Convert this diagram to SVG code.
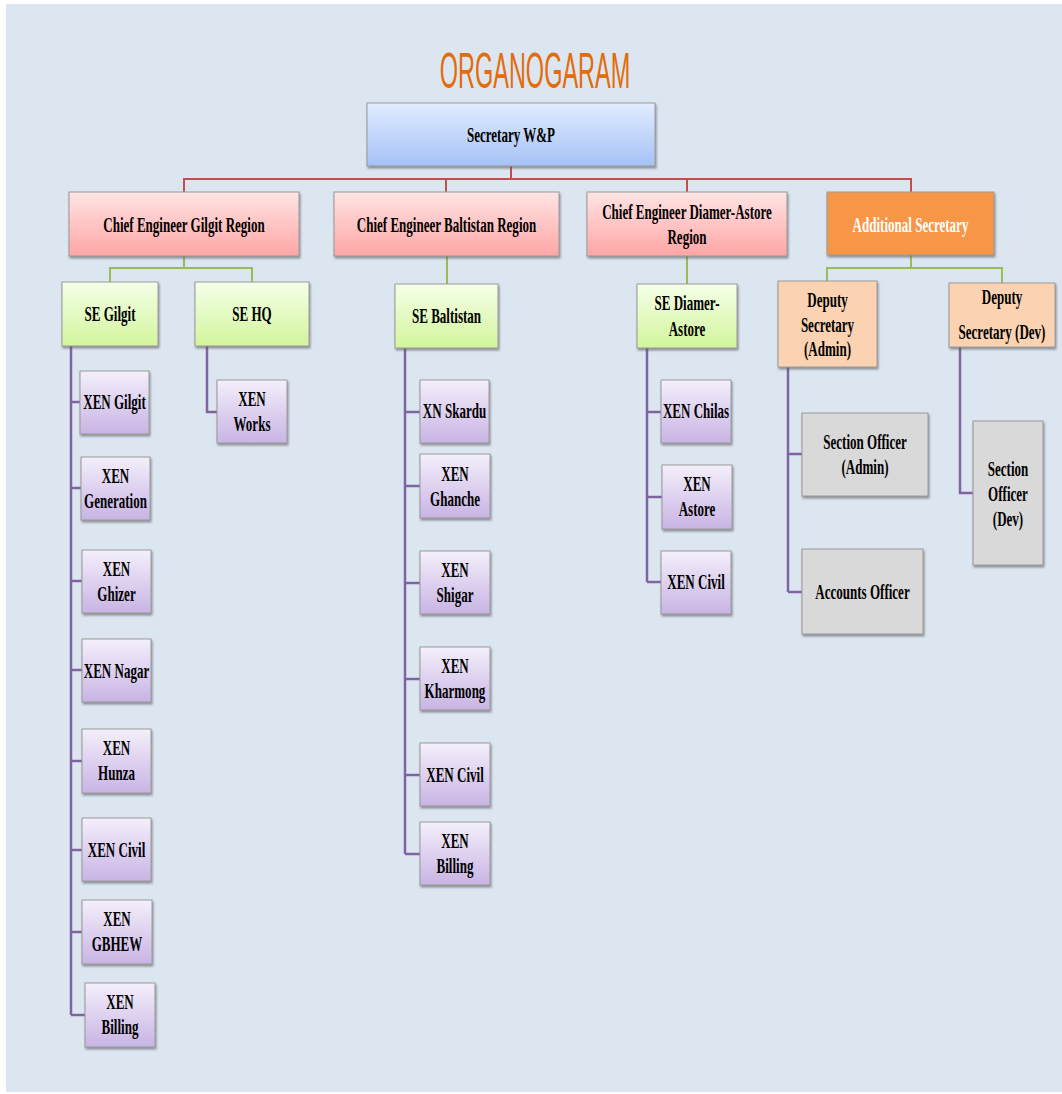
<svg xmlns="http://www.w3.org/2000/svg" width="1062" height="1094" viewBox="0 0 1062 1094">
<defs>
<linearGradient id="gBlue" x1="0" y1="0" x2="0" y2="1"><stop offset="0" stop-color="#e2ecff"/><stop offset="1" stop-color="#a4c2f6"/></linearGradient>
<linearGradient id="gPink" x1="0" y1="0" x2="0" y2="1"><stop offset="0" stop-color="#ffe4e4"/><stop offset="1" stop-color="#ffa5a5"/></linearGradient>
<linearGradient id="gGreen" x1="0" y1="0" x2="0" y2="1"><stop offset="0" stop-color="#f4ffe8"/><stop offset="1" stop-color="#d3f59c"/></linearGradient>
<linearGradient id="gPurple" x1="0" y1="0" x2="0" y2="1"><stop offset="0" stop-color="#f4effb"/><stop offset="1" stop-color="#c8b4e4"/></linearGradient>
<filter id="sh" x="-10%" y="-10%" width="130%" height="130%"><feDropShadow dx="1" dy="2" stdDeviation="1" flood-color="#555" flood-opacity="0.6"/></filter>
</defs>
<style>
.box{stroke:#9a9a9a;stroke-width:1;filter:url(#sh)}
.blue{fill:url(#gBlue)}
.pink{fill:url(#gPink)}
.green{fill:url(#gGreen)}
.purple{fill:url(#gPurple)}
.orange{fill:#f79646}
.peach{fill:#fbd3b2}
.gray{fill:#d9d9d9}
text{font-family:"Liberation Serif","Times New Roman",serif;font-weight:bold;font-size:21px;fill:#000;text-anchor:middle}
text.w{fill:#fff}
.red{stroke:#c0504d;stroke-width:2;fill:none}
.grn{stroke:#9bbb59;stroke-width:2;fill:none}
.pur{stroke:#8064a2;stroke-width:2.5;fill:none}
</style>
<rect x="0" y="0" width="1062" height="1094" fill="#ffffff"/>
<rect x="6" y="4" width="1056" height="1088" fill="#dce6f1"/>
<text x="0" y="88" transform="translate(535,0) scale(0.47,1)" style="font-family:'Liberation Sans',Arial,sans-serif;font-weight:normal;font-size:50px;fill:#e46c0a">ORGANOGARAM</text>

<g id="connectors">
<path class="red" d="M511 166V179M184 192V179H911V192M446 179V192M687 179V192"/>
<path class="grn" d="M184 256V268M110 282V268H252V282M447 256V284M687 256V284M911 255V268M827 281V268H1002V283"/>
<path class="pur" d="M71 346V1015M71 402H80M71 488H81M71 581H82M71 670H82M71 761H82M71 850H82M71 932H82M71 1015H85"/>
<path class="pur" d="M207 346V412H217"/>
<path class="pur" d="M405 348V854M405 412H420M405 486H420M405 583H420M405 679H420M405 775H420M405 854H420"/>
<path class="pur" d="M647 348V582M647 412H661M647 497H662M647 582H661"/>
<path class="pur" d="M788 367V592M788 454H802M788 592H802"/>
<path class="pur" d="M960 347V493H973"/>
</g>

<g id="secretary"><rect class="box blue" x="367" y="103" width="288" height="63"/><text transform="translate(511,0) scale(0.62,1)" x="0" y="142">Secretary W&amp;P</text></g>

<g id="ce-gilgit"><rect class="box pink" x="69" y="192" width="230" height="64"/><text transform="translate(184,0) scale(0.62,1)" x="0" y="232">Chief Engineer Gilgit Region</text></g>
<g id="ce-baltistan"><rect class="box pink" x="334" y="192" width="225" height="64"/><text transform="translate(446.5,0) scale(0.62,1)" x="0" y="232">Chief Engineer Baltistan Region</text></g>
<g id="ce-diamer"><rect class="box pink" x="587" y="192" width="200" height="64"/><text transform="translate(687,0) scale(0.62,1)" x="0" y="219">Chief Engineer Diamer-Astore</text><text transform="translate(687,0) scale(0.62,1)" x="0" y="244">Region</text></g>
<g id="add-secretary"><rect class="box orange" x="827" y="192" width="167" height="63"/><text class="w" transform="translate(910.5,0) scale(0.62,1)" x="0" y="232">Additional Secretary</text></g>

<g id="se-gilgit"><rect class="box green" x="62" y="282" width="96" height="64"/><text transform="translate(110,0) scale(0.62,1)" x="0" y="321">SE Gilgit</text></g>
<g id="se-hq"><rect class="box green" x="195" y="282" width="114" height="64"/><text transform="translate(252,0) scale(0.62,1)" x="0" y="321">SE HQ</text></g>
<g id="se-baltistan"><rect class="box green" x="395" y="284" width="103" height="64"/><text transform="translate(446.5,0) scale(0.62,1)" x="0" y="323">SE Baltistan</text></g>
<g id="se-diamer"><rect class="box green" x="637" y="284" width="100" height="64"/><text transform="translate(687,0) scale(0.62,1)" x="0" y="310">SE Diamer-</text><text transform="translate(687,0) scale(0.62,1)" x="0" y="336">Astore</text></g>
<g id="ds-admin"><rect class="box peach" x="778" y="281" width="99" height="86"/><text transform="translate(827.5,0) scale(0.62,1)" x="0" y="307">Deputy</text><text transform="translate(827.5,0) scale(0.62,1)" x="0" y="332">Secretary</text><text transform="translate(827.5,0) scale(0.62,1)" x="0" y="356">(Admin)</text></g>
<g id="ds-dev"><rect class="box peach" x="949" y="283" width="106" height="64"/><text transform="translate(1002,0) scale(0.62,1)" x="0" y="304">Deputy</text><text transform="translate(1002,0) scale(0.62,1)" x="0" y="339">Secretary (Dev)</text></g>

<g id="xen-gilgit"><rect class="box purple" x="80" y="371" width="69" height="63"/><text transform="translate(114.5,0) scale(0.62,1)" x="0" y="409">XEN Gilgit</text></g>
<g id="xen-generation"><rect class="box purple" x="81" y="457" width="69" height="63"/><text transform="translate(115.5,0) scale(0.62,1)" x="0" y="483">XEN</text><text transform="translate(115.5,0) scale(0.62,1)" x="0" y="508">Generation</text></g>
<g id="xen-ghizer"><rect class="box purple" x="82" y="550" width="69" height="63"/><text transform="translate(116.5,0) scale(0.62,1)" x="0" y="576">XEN</text><text transform="translate(116.5,0) scale(0.62,1)" x="0" y="601">Ghizer</text></g>
<g id="xen-nagar"><rect class="box purple" x="82" y="639" width="69" height="63"/><text transform="translate(116.5,0) scale(0.62,1)" x="0" y="678">XEN Nagar</text></g>
<g id="xen-hunza"><rect class="box purple" x="82" y="729" width="69" height="64"/><text transform="translate(116.5,0) scale(0.62,1)" x="0" y="755">XEN</text><text transform="translate(116.5,0) scale(0.62,1)" x="0" y="780">Hunza</text></g>
<g id="xen-civil-g"><rect class="box purple" x="82" y="818" width="69" height="63"/><text transform="translate(116.5,0) scale(0.62,1)" x="0" y="857">XEN Civil</text></g>
<g id="xen-gbhew"><rect class="box purple" x="82" y="900" width="70" height="64"/><text transform="translate(117,0) scale(0.62,1)" x="0" y="926">XEN</text><text transform="translate(117,0) scale(0.62,1)" x="0" y="951">GBHEW</text></g>
<g id="xen-billing-g"><rect class="box purple" x="85" y="983" width="70" height="64"/><text transform="translate(120,0) scale(0.62,1)" x="0" y="1009">XEN</text><text transform="translate(120,0) scale(0.62,1)" x="0" y="1034">Billing</text></g>

<g id="xen-works"><rect class="box purple" x="217" y="380" width="70" height="63"/><text transform="translate(252,0) scale(0.62,1)" x="0" y="406">XEN</text><text transform="translate(252,0) scale(0.62,1)" x="0" y="431">Works</text></g>

<g id="xn-skardu"><rect class="box purple" x="420" y="380" width="69" height="63"/><text transform="translate(454.5,0) scale(0.62,1)" x="0" y="418">XN Skardu</text></g>
<g id="xen-ghanche"><rect class="box purple" x="420" y="454" width="70" height="64"/><text transform="translate(455,0) scale(0.62,1)" x="0" y="481">XEN</text><text transform="translate(455,0) scale(0.62,1)" x="0" y="506">Ghanche</text></g>
<g id="xen-shigar"><rect class="box purple" x="420" y="551" width="70" height="63"/><text transform="translate(455,0) scale(0.62,1)" x="0" y="577">XEN</text><text transform="translate(455,0) scale(0.62,1)" x="0" y="602">Shigar</text></g>
<g id="xen-kharmong"><rect class="box purple" x="420" y="647" width="70" height="63"/><text transform="translate(455,0) scale(0.62,1)" x="0" y="673">XEN</text><text transform="translate(455,0) scale(0.62,1)" x="0" y="698">Kharmong</text></g>
<g id="xen-civil-b"><rect class="box purple" x="420" y="743" width="70" height="63"/><text transform="translate(455,0) scale(0.62,1)" x="0" y="782">XEN Civil</text></g>
<g id="xen-billing-b"><rect class="box purple" x="420" y="822" width="70" height="63"/><text transform="translate(455,0) scale(0.62,1)" x="0" y="848">XEN</text><text transform="translate(455,0) scale(0.62,1)" x="0" y="873">Billing</text></g>

<g id="xen-chilas"><rect class="box purple" x="661" y="380" width="70" height="63"/><text transform="translate(696,0) scale(0.62,1)" x="0" y="418">XEN Chilas</text></g>
<g id="xen-astore"><rect class="box purple" x="662" y="465" width="70" height="64"/><text transform="translate(697,0) scale(0.62,1)" x="0" y="491">XEN</text><text transform="translate(697,0) scale(0.62,1)" x="0" y="516">Astore</text></g>
<g id="xen-civil-d"><rect class="box purple" x="661" y="551" width="70" height="63"/><text transform="translate(696,0) scale(0.62,1)" x="0" y="589">XEN Civil</text></g>

<g id="so-admin"><rect class="box gray" x="802" y="413" width="126" height="83"/><text transform="translate(865,0) scale(0.62,1)" x="0" y="449">Section Officer</text><text transform="translate(865,0) scale(0.62,1)" x="0" y="474">(Admin)</text></g>
<g id="accounts-officer"><rect class="box gray" x="802" y="549" width="121" height="85"/><text transform="translate(862.5,0) scale(0.62,1)" x="0" y="599">Accounts Officer</text></g>
<g id="so-dev"><rect class="box gray" x="973" y="421" width="70" height="144"/><text transform="translate(1008,0) scale(0.62,1)" x="0" y="476">Section</text><text transform="translate(1008,0) scale(0.62,1)" x="0" y="501">Officer</text><text transform="translate(1008,0) scale(0.62,1)" x="0" y="526">(Dev)</text></g>
</svg>
